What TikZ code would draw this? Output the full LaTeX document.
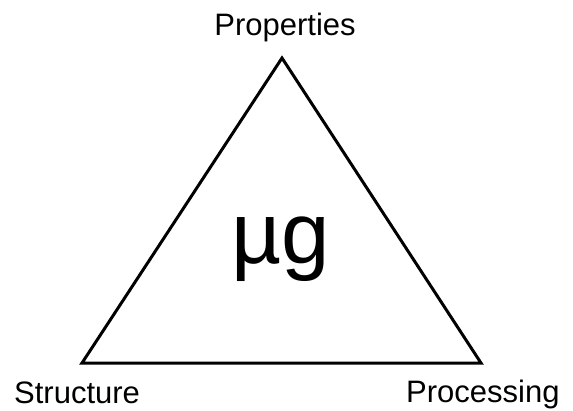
\documentclass[tikz,border=0pt]{standalone}
\usepackage{fontspec}
\setmainfont{Liberation Sans}
\usetikzlibrary{positioning}
\tikzset{
    corner/.style={inner sep=0pt, anchor=base, font=\fontsize{31}{36}\selectfont},
    centre/.style={inner sep=0pt, anchor=base, font=\fontsize{87}{96}\selectfont},
    side/.style={line width=3pt, line join=miter, black},
}
\begin{document}
\begin{tikzpicture}[x=1pt, y=-1pt]
    \useasboundingbox (0,0) rectangle (573,410);
    % corners of the triangle
    \coordinate (top) at (282,58);
    \coordinate (left) at (82,363);
    \coordinate (right) at (481,363);

    \draw[side] (top) -- (right) -- (left) -- cycle;

    \node[corner] (prop) at (285,35) {Properties};
    \node[corner, anchor=base west] (struct) at (14,403) {Structure};
    \node[corner, anchor=base west] (proc) at (406,402) {Processing};
    \node[centre] (mug) at (281,263) {µg};
\end{tikzpicture}
\end{document}
